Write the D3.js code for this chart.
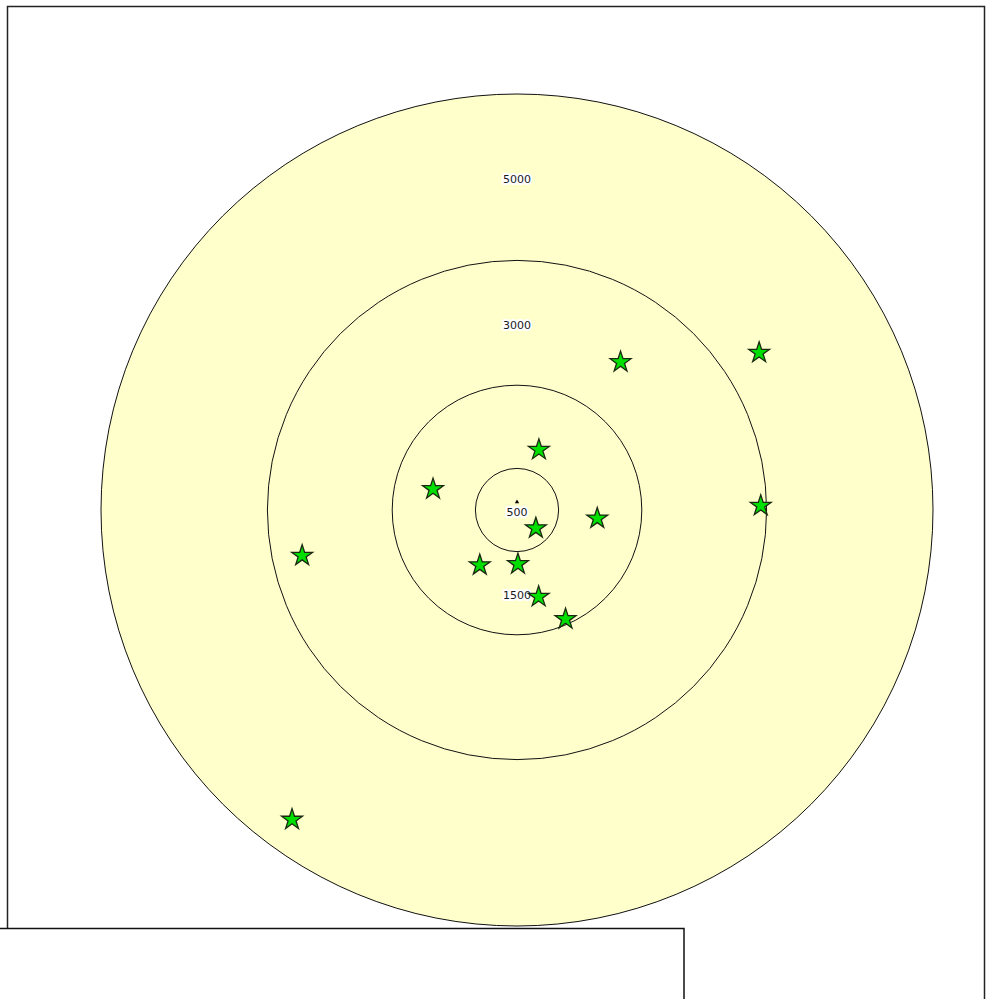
<!DOCTYPE html>
<meta charset="utf-8">
<head>
  <style>
    body { margin: 0; background: #fff; }
    svg { display: block; }
    .ring { fill: none; stroke: #111; stroke-width: 1; }
    .ring-label { font: 11px "DejaVu Sans", Verdana, sans-serif; }
  </style>
</head>
<body>
  <div class="main"></div>
  <script src="https://d3js.org/d3.v7.min.js"></script>
  <script>
    // range rings (units), outermost is the filled disc
    var rings = [500, 1500, 3000, 5000];
    // where each ring label sits: distance from centre and bearing (deg)
    var ringLabelDist = [0, 1000, 2250, 4000];
    var ringLabelBearing = [0, 180, 0, 0];

    // points: distance from centre (units) and bearing clockwise from north (deg)
    var pointDist = [2170, 3470, 770, 1040, 970, 2930, 315, 2640, 800, 650, 1075, 1435, 4600];
    var pointBearing = [35, 57, 20, 284, 96, 89, 134, 258, 214, 179, 166, 156, 216];

    var width = 987, height = 999;
    var cx = 517, cy = 510;

    var svg = d3.select(".main").append("svg")
      .attr("width", width)
      .attr("height", height);

    // outer frame
    svg.append("rect")
      .attr("x", 7.5).attr("y", 6.5)
      .attr("width", 977).attr("height", 1010)
      .attr("fill", "#fff")
      .attr("stroke", "#222")
      .attr("stroke-width", 1.5);

    var r = d3.scaleLinear()
      .domain([0, 5000])
      .range([0, 416]);

    function pos(dist, bearing) {
      var a = bearing * Math.PI / 180;
      return [cx + r(dist) * Math.sin(a), cy - r(dist) * Math.cos(a)];
    }

    var g = svg.append("g");

    // filled disc
    g.append("circle")
      .attr("cx", cx).attr("cy", cy)
      .attr("r", r(d3.max(rings)))
      .attr("fill", "#ffffcc")
      .attr("stroke", "#111")
      .attr("stroke-width", 1);

    g.selectAll(".ring")
      .data(rings.slice(0, -1))
      .enter().append("circle")
      .attr("class", "ring")
      .attr("cx", cx).attr("cy", cy)
      .attr("r", function (d) { return r(d); });

    // centre marker
    g.append("path")
      .attr("d", d3.symbol().type(d3.symbolTriangle).size(8))
      .attr("transform", "translate(" + cx + "," + (cy - 8) + ")")
      .attr("fill", "#000");

    // ring labels: white halo copy first, then the text
    ["halo", "txt"].forEach(function (layer) {
      g.selectAll(".ring-label." + layer)
        .data(rings)
        .enter().append("text")
        .attr("class", "ring-label " + layer)
        .attr("text-anchor", "middle")
        .attr("dy", "0.35em")
        .attr("x", function (d, i) { return pos(ringLabelDist[i], ringLabelBearing[i])[0]; })
        .attr("y", function (d, i) { return pos(ringLabelDist[i], ringLabelBearing[i])[1] + 2; })
        .attr("fill", layer == "halo" ? "#fff" : "#1a1a1a")
        .attr("stroke", layer == "halo" ? "#fff" : "none")
        .attr("stroke-width", layer == "halo" ? 4 : 0)
        .attr("stroke-linejoin", "round")
        .text(function (d) { return d; });
    });

    // stars
    var star = d3.symbol().type(d3.symbolStar).size(135);
    g.selectAll(".pt")
      .data(pointDist)
      .enter().append("path")
      .attr("class", "pt")
      .attr("d", star)
      .attr("transform", function (d, i) {
        var p = pos(d, pointBearing[i]);
        return "translate(" + p[0] + "," + p[1] + ")";
      })
      .attr("fill", "#00e000")
      .attr("stroke", "#1a2a10")
      .attr("stroke-width", 1.3)
      .attr("stroke-linejoin", "miter");

    // lower box (overlaps frame)
    svg.append("rect")
      .attr("x", -10).attr("y", 928.5)
      .attr("width", 694).attr("height", 100)
      .attr("fill", "#fff")
      .attr("stroke", "#111")
      .attr("stroke-width", 1.5);
  </script>
</body>
